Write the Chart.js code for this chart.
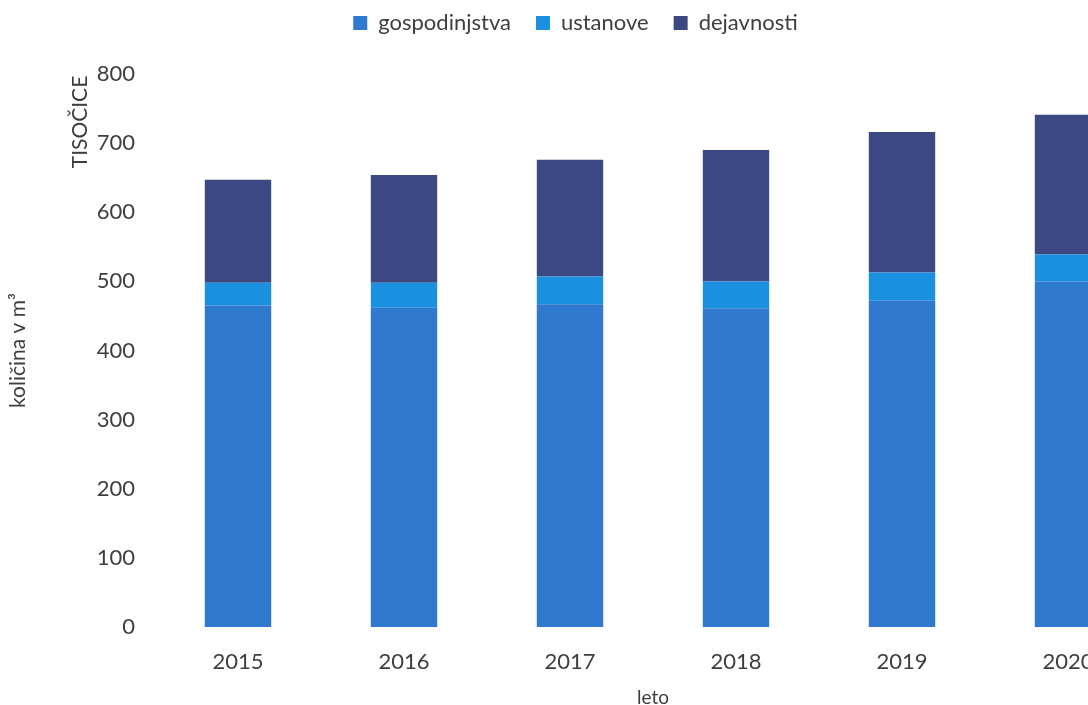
<!DOCTYPE html>
<html>
<head>
<meta charset="utf-8">
<script src="https://cdn.jsdelivr.net/npm/chart.js@4.4.1/dist/chart.umd.min.js"></script>
<style>
  html, body { margin: 0; padding: 0; background: #ffffff; overflow: hidden; }
  #wrap { width: 1160px; height: 705px; position: relative; }
</style>
</head>
<body>
<div id="wrap"><canvas id="c"></canvas></div>
<script>
// Leta in količine (v tisočih m³)
const years = ['2015', '2016', '2017', '2018', '2019', '2020'];
const gospodinjstva = [465, 462, 467, 461, 472, 500];
const ustanove = [33, 36, 40, 39, 41, 39];
const dejavnosti = [149, 156, 169, 190, 203, 202];
const yTicks = [0, 100, 200, 300, 400, 500, 600, 700, 800];

const FONT = 'Lato, "Open Sans", sans-serif';
const TEXT = '#3e3e3e';
const LEGEND_GAP = 30;

// Prazen prostor med legendo in risalno površino
const legendGap = {
  id: 'legendGap',
  beforeInit(chart) {
    Chart.layouts.addBox(chart, {
      position: 'top',
      weight: 0,
      fullSize: true,
      options: {},
      isHorizontal() { return true; },
      update(maxWidth) { this.width = maxWidth; this.height = LEGEND_GAP; },
      draw() {}
    });
  }
};

// Oznaka enote ob osi y
const unitLabel = {
  id: 'unitLabel',
  afterDraw(chart) {
    const ctx = chart.ctx;
    ctx.save();
    ctx.translate(80, 122);
    ctx.rotate(-Math.PI / 2);
    ctx.fillStyle = TEXT;
    ctx.font = '21px ' + FONT;
    ctx.textAlign = 'center';
    ctx.textBaseline = 'middle';
    ctx.fillText('TISOČICE', 0, 0);
    ctx.restore();
  }
};

new Chart(document.getElementById('c'), {
  type: 'bar',
  data: {
    labels: years,
    datasets: [
      { label: 'gospodinjstva', data: gospodinjstva, backgroundColor: '#2f79ce' },
      { label: 'ustanove', data: ustanove, backgroundColor: '#1b8fe0' },
      { label: 'dejavnosti', data: dejavnosti, backgroundColor: '#3b4881' }
    ]
  },
  options: {
    responsive: true,
    maintainAspectRatio: false,
    animation: false,
    layout: { padding: { top: -13, right: 9, bottom: 0, left: 0 } },
    datasets: { bar: { categoryPercentage: 1, barPercentage: 0.4 } },
    plugins: {
      tooltip: { enabled: false },
      legend: {
        position: 'top',
        align: 'center',
        labels: {
          color: TEXT,
          font: { family: FONT, size: 22 },
          boxWidth: 14,
          boxHeight: 14,
          padding: 25
        }
      }
    },
    scales: {
      x: {
        stacked: true,
        afterFit(scale) { scale.height = 78; },
        grid: { display: false, drawTicks: false },
        border: { display: false },
        ticks: { color: TEXT, font: { family: FONT, size: 22 }, padding: 22 },
        title: { display: true, text: 'leto', color: TEXT, font: { family: FONT, size: 19 }, padding: { top: 0, bottom: -4 } }
      },
      y: {
        stacked: true,
        min: 0,
        max: 800,
        afterBuildTicks(scale) { scale.ticks = yTicks.map(v => ({ value: v })); },
        afterFit(scale) { scale.width = 155; },
        grid: { display: false, drawTicks: false },
        border: { display: false },
        ticks: { color: TEXT, font: { family: FONT, size: 22 }, padding: 20 },
        title: { display: true, text: 'količina v m³', color: TEXT, font: { family: FONT, size: 21 }, padding: { top: 6, bottom: 0 } }
      }
    }
  },
  plugins: [legendGap, unitLabel]
});
</script>
</body>
</html>
